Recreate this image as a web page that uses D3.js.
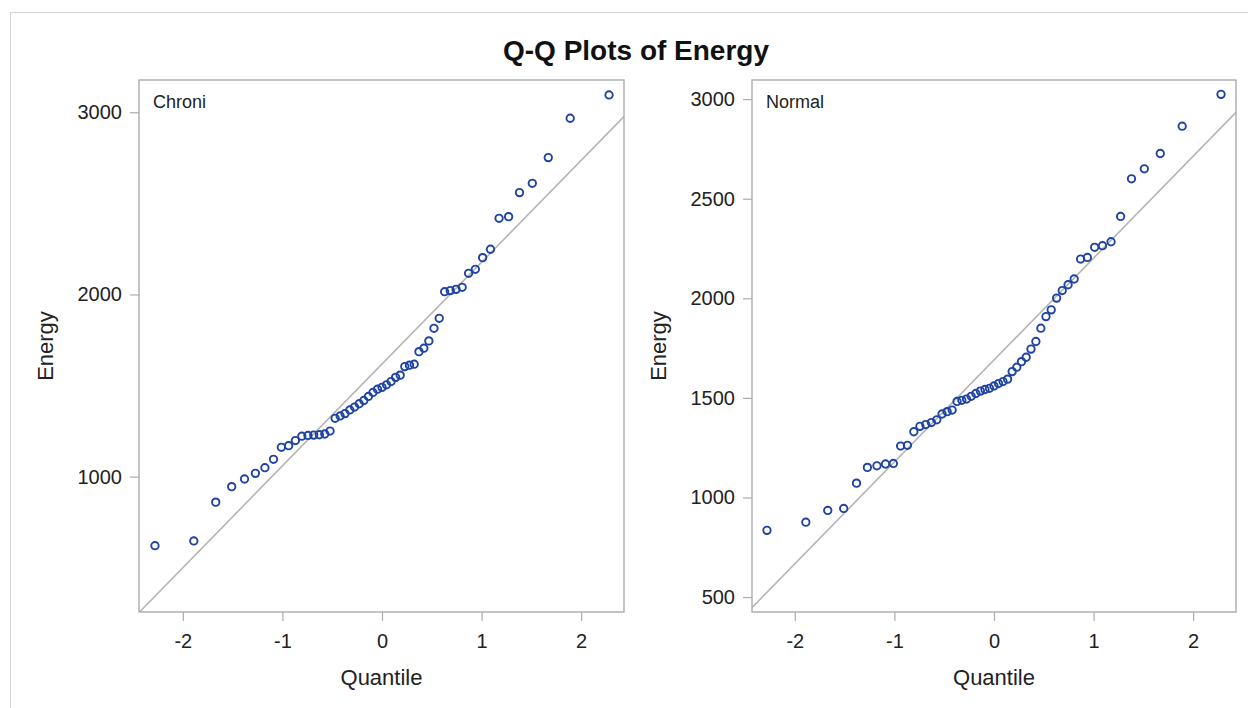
<!DOCTYPE html>
<html>
<head>
<meta charset="utf-8">
<script src="https://cdn.jsdelivr.net/npm/d3@7"></script>
<style>
  html, body { margin: 0; padding: 0; background: #fff; }
  svg { display: block; }
  text { font-family: "Liberation Sans", Arial, sans-serif; fill: #222; }
</style>
</head>
<body>
<svg id="chart" width="1248" height="708"></svg>
<script>
// Groups shown in the two panels
const groups = ["Chroni", "Normal"];

// Energy observations, sorted, one array per group
const chroniEnergy = [
  621, 647, 860, 945, 987, 1018, 1049, 1095, 1161, 1170,
  1198, 1222, 1226, 1228, 1230, 1234, 1250, 1320, 1333, 1346,
  1366, 1382, 1400, 1418, 1440, 1462, 1480, 1490, 1504, 1522,
  1545, 1557, 1604, 1612, 1617, 1686, 1705, 1745, 1814, 1869,
  2015, 2021, 2028, 2039, 2116, 2138, 2202, 2248, 2418, 2427,
  2559, 2610, 2751, 2967, 3095
];
const normalEnergy = [
  835, 876, 935, 945, 1072, 1151, 1159, 1168, 1171, 1258,
  1262, 1330, 1357, 1366, 1376, 1390, 1419, 1431, 1439, 1482,
  1488, 1494, 1508, 1522, 1534, 1542, 1548, 1560, 1572, 1582,
  1594, 1632, 1654, 1682, 1704, 1745, 1783, 1850, 1908, 1942,
  2001, 2039, 2068, 2097, 2197, 2205, 2256, 2264, 2284, 2411,
  2600, 2650, 2727, 2864, 3024
];

// Tick labels
const quantileTicks = [-2, -1, 0, 1, 2];
const chroniEnergyTicks = [1000, 2000, 3000];
const normalEnergyTicks = [500, 1000, 1500, 2000, 2500, 3000];

// Inverse standard normal CDF (Acklam's rational approximation)
function normInv(p) {
  const a = [-3.969683028665376e+01, 2.209460984245205e+02, -2.759285104469687e+02,
             1.383577518672690e+02, -3.066479806614716e+01, 2.506628277459239e+00];
  const b = [-5.447609879822406e+01, 1.615858368580409e+02, -1.556989798598866e+02,
             6.680131188771201e+01, -1.328068155288572e+01];
  const c = [-7.784894002430293e-03, -3.223964580411365e-01, -2.400758277161838e+00,
             -2.549732539343734e+00, 4.374664141464968e+00, 2.938163982698783e+00];
  const d = [7.784695709041462e-03, 3.224671290700398e-01, 2.445134137142996e+00,
             3.754408661907416e+00];
  const pl = 0.02425, ph = 1 - pl;
  let q, r;
  if (p < pl) {
    q = Math.sqrt(-2 * Math.log(p));
    return (((((c[0]*q+c[1])*q+c[2])*q+c[3])*q+c[4])*q+c[5]) /
           ((((d[0]*q+d[1])*q+d[2])*q+d[3])*q+1);
  }
  if (p <= ph) {
    q = p - 0.5; r = q * q;
    return (((((a[0]*r+a[1])*r+a[2])*r+a[3])*r+a[4])*r+a[5])*q /
           (((((b[0]*r+b[1])*r+b[2])*r+b[3])*r+b[4])*r+1);
  }
  q = Math.sqrt(-2 * Math.log(1 - p));
  return -(((((c[0]*q+c[1])*q+c[2])*q+c[3])*q+c[4])*q+c[5]) /
          ((((d[0]*q+d[1])*q+d[2])*q+d[3])*q+1);
}

// Pair each sorted value with its Blom normal quantile
function qqPoints(values) {
  const v = values.slice().sort(d3.ascending);
  const n = v.length;
  return v.map((y, i) => ({ q: normInv((i + 1 - 0.375) / (n + 0.25)), y }));
}

const panels = [
  { name: groups[0], values: chroniEnergy, yTicks: chroniEnergyTicks,
    box: { x0: 139, x1: 624, y0: 80, y1: 612 },
    xDomain: [-2.44, 2.43], yDomain: [257, 3177] },
  { name: groups[1], values: normalEnergy, yTicks: normalEnergyTicks,
    box: { x0: 752, x1: 1236, y0: 80, y1: 612 },
    xDomain: [-2.43, 2.43], yDomain: [425, 3096] }
];

const svg = d3.select("#chart");

// Outer graph border
svg.append("rect")
  .attr("x", 10.5).attr("y", 12.5)
  .attr("width", 1400).attr("height", 900)
  .attr("fill", "#fff").attr("stroke", "#d4d4d4").attr("stroke-width", 1);

svg.append("text")
  .attr("x", 636).attr("y", 60)
  .attr("text-anchor", "middle")
  .style("font-size", "28px").style("font-weight", "bold").style("fill", "#111")
  .text("Q-Q Plots of Energy");

const frameColor = "#a9acaf";
const plainNumber = d => String(d);   // ASCII hyphen for negatives

panels.forEach((p, k) => {
  const { x0, x1, y0, y1 } = p.box;
  const x = d3.scaleLinear().domain(p.xDomain).range([x0, x1]);
  const y = d3.scaleLinear().domain(p.yDomain).range([y1, y0]);
  const g = svg.append("g");

  const clipId = "clip" + k;
  g.append("clipPath").attr("id", clipId)
    .append("rect").attr("x", x0).attr("y", y0)
    .attr("width", x1 - x0).attr("height", y1 - y0);

  // Axes
  const xAxis = g.append("g")
    .attr("transform", `translate(0,${y1})`)
    .call(d3.axisBottom(x).tickValues(quantileTicks).tickSize(9).tickPadding(8)
      .tickFormat(plainNumber));
  const yAxis = g.append("g")
    .attr("transform", `translate(${x0},0)`)
    .call(d3.axisLeft(y).tickValues(p.yTicks).tickSize(9).tickPadding(8)
      .tickFormat(plainNumber));
  [xAxis, yAxis].forEach(ax => {
    ax.select(".domain").remove();
    ax.selectAll(".tick line").attr("stroke", frameColor).attr("stroke-width", 1.2);
    ax.selectAll(".tick text").style("font-size", "20px")
      .style("font-family", "'Liberation Sans', Arial, sans-serif").attr("fill", "#222");
  });
  xAxis.selectAll(".tick text").attr("dy", "0.95em");

  // Reference line: mean + sd * quantile
  const mu = d3.mean(p.values), sigma = d3.deviation(p.values);
  g.append("line")
    .attr("clip-path", `url(#${clipId})`)
    .attr("x1", x(p.xDomain[0])).attr("y1", y(mu + sigma * p.xDomain[0]))
    .attr("x2", x(p.xDomain[1])).attr("y2", y(mu + sigma * p.xDomain[1]))
    .attr("stroke", "#b4b4b4").attr("stroke-width", 1.6);

  // Frame
  g.append("rect")
    .attr("x", x0).attr("y", y0).attr("width", x1 - x0).attr("height", y1 - y0)
    .attr("fill", "none").attr("stroke", frameColor).attr("stroke-width", 1.4);

  // Markers
  g.append("g").attr("clip-path", `url(#${clipId})`)
    .selectAll("circle").data(qqPoints(p.values)).join("circle")
    .attr("cx", d => x(d.q)).attr("cy", d => y(d.y)).attr("r", 3.7)
    .attr("fill", "none").attr("stroke", "#1f43a3").attr("stroke-width", 1.9);

  // Inset group label
  g.append("text")
    .attr("x", x0 + 14).attr("y", y0 + 28)
    .style("font-size", "18px")
    .text(p.name);

  // Axis labels
  g.append("text")
    .attr("x", (x0 + x1) / 2).attr("y", 685)
    .attr("text-anchor", "middle").style("font-size", "22px")
    .text("Quantile");
  g.append("text")
    .attr("transform", `translate(${x0 - 86},${(y0 + y1) / 2}) rotate(-90)`)
    .attr("text-anchor", "middle").style("font-size", "22px")
    .text("Energy");
});
</script>
</body>
</html>
